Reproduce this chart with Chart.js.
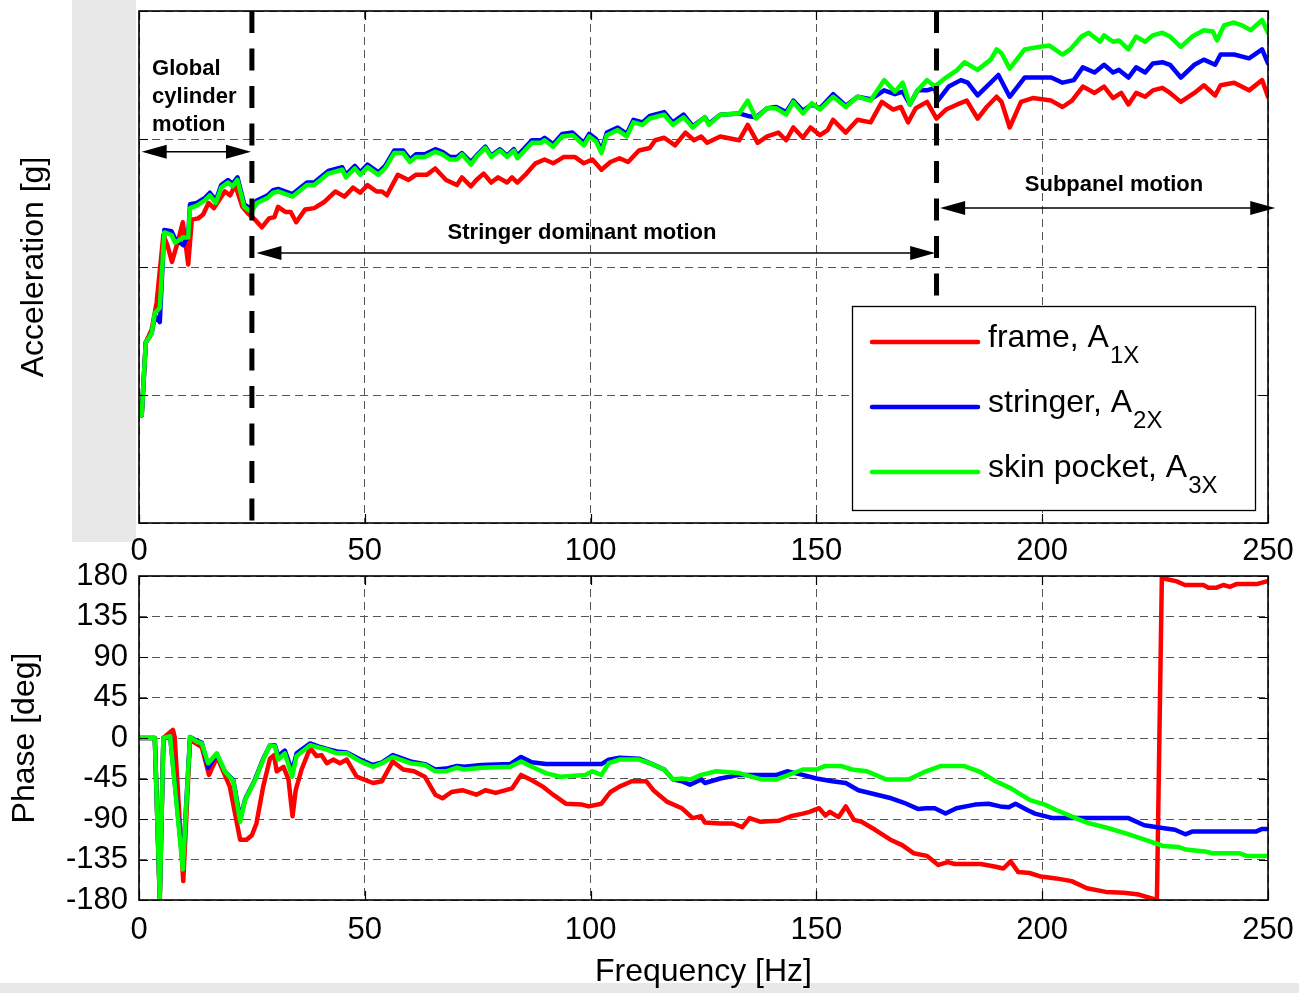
<!DOCTYPE html>
<html><head><meta charset="utf-8">
<script src="https://cdn.jsdelivr.net/npm/chart.js@4"></script>
<style>
html,body{margin:0;padding:0;background:#fff;}
#wrap{position:relative;width:1299px;height:993px;overflow:hidden;}
canvas{position:absolute;left:0;}
#c1{top:0}
#c2{top:560px}
</style></head><body>
<div id="wrap"><canvas id="c1" width="1299" height="560"></canvas><canvas id="c2" width="1299" height="433"></canvas></div>
<script>
// ---------------- DATA ----------------
const freqTicks = [0, 50, 100, 150, 200, 250];
const phaseTicks = [-180, -135, -90, -45, 0, 45, 90, 135, 180];
const seriesNames = ['frame, A', 'stringer, A', 'skin pocket, A'];
const seriesSubs = ['1X', '2X', '3X'];

// Acceleration magnitude (log decades above the bottom of the axis) : [Hz, value]
const accFrame = [[0.6,0.84],[1.5,1.41],[2.8,1.51],[3.9,1.72],[5.4,2.25],[6.3,2.17],[7.3,2.04],[8.7,2.21],[9.7,2.35],[10.9,2.02],
[11.7,2.37],[13.1,2.38],[14.2,2.41],[15.4,2.50],[16.6,2.46],[19,2.59],[20.2,2.56],[21.3,2.64],[22.9,2.47],[24.1,2.42],
[25.7,2.37],[27.2,2.31],[28.8,2.38],[30,2.39],[30.8,2.47],[32.4,2.43],[33.6,2.43],[34.8,2.35],[36.8,2.45],[38.8,2.46],
[41.1,2.51],[43.5,2.59],[45.5,2.55],[47.4,2.62],[49,2.58],[50.6,2.64],[52.6,2.59],[53.8,2.59],[54.9,2.56],[57.3,2.72],
[59.7,2.68],[61.3,2.72],[63.7,2.72],[65.6,2.77],[68,2.68],[70.4,2.64],[71.5,2.70],[73.5,2.63],[74.7,2.68],[76.3,2.73],
[78,2.66],[79.5,2.70],[81.5,2.66],[82.6,2.70],[83.8,2.66],[85.8,2.73],[87.8,2.81],[89.8,2.84],[91.7,2.81],[94.1,2.86],
[96.5,2.86],[98.5,2.81],[100.4,2.84],[102.4,2.76],[104.4,2.82],[106.4,2.85],[108.3,2.82],[110.7,2.91],[113.1,2.93],[114.3,2.99],
[116.3,3.01],[118.7,2.95],[121,3.05],[122.9,2.99],[124.5,3.02],[125.8,2.97],[128.7,3.02],[132.9,2.99],[134.8,3.11],[137,2.97],
[139.1,3.02],[141.6,3.05],[143.3,2.99],[144.9,3.09],[147,3.01],[148.7,3.09],[150.8,3.03],[152.5,3.07],[153.7,3.15],[156.5,3.05],
[159.1,3.15],[162,3.13],[164.5,3.29],[167,3.23],[168.7,3.25],[170.3,3.13],[172,3.24],[174.5,3.29],[176.6,3.16],[178.7,3.23],
[181.2,3.27],[183.3,3.30],[185.7,3.16],[187.7,3.25],[189.9,3.33],[191,3.29],[192.8,3.09],[195.3,3.29],[197.9,3.32],[202,3.30],
[204.5,3.25],[206.6,3.30],[209,3.41],[211.6,3.36],[213.7,3.41],[215.7,3.32],[217.5,3.36],[219.1,3.27],[220.8,3.36],[222.8,3.33],
[224.5,3.38],[226.6,3.40],[228.3,3.36],[230.7,3.29],[233.7,3.36],[235.8,3.42],[238.3,3.34],[239.5,3.42],[242.5,3.44],[245.8,3.38],
[248.7,3.46],[250,3.33]];

const accStringer = [[0.6,0.84],[1.5,1.41],[2.8,1.48],[3.5,1.62],[4.6,1.57],[5.6,2.29],[7.2,2.28],[8,2.22],[9.8,2.17],[10.9,2.25],
[11.3,2.49],[12.8,2.50],[14.6,2.54],[15.7,2.58],[17,2.52],[18.2,2.64],[19.7,2.68],[20.7,2.65],[21.8,2.70],[23.3,2.49],
[24.9,2.45],[26.1,2.52],[28.5,2.56],[29.7,2.60],[30.8,2.61],[34,2.57],[37.2,2.66],[38.8,2.66],[41.9,2.75],[45,2.78],
[45.8,2.72],[47.8,2.79],[49,2.74],[50.6,2.80],[53,2.74],[54.5,2.79],[56.5,2.91],[58.5,2.91],[60,2.84],[61.3,2.88],
[63.3,2.88],[65.6,2.92],[67.2,2.90],[68.8,2.86],[70.4,2.86],[71.5,2.89],[73.5,2.82],[74.7,2.87],[76.7,2.94],[78,2.87],
[79.9,2.92],[81.5,2.87],[83,2.92],[83.8,2.87],[85.4,2.93],[87,2.99],[89,2.99],[89.8,3.01],[91.7,2.96],[93.7,3.04],
[96,3.05],[98.5,2.97],[99.7,3.04],[101.2,3.00],[102.4,2.91],[103.6,3.05],[106,3.09],[108,3.04],[109.5,3.15],[111.5,3.13],
[113.1,3.18],[116.3,3.21],[118.2,3.13],[120.6,3.19],[122.6,3.10],[125.3,3.17],[126.2,3.12],[128.7,3.19],[132.9,3.20],[134.8,3.18],
[136.6,3.17],[139.1,3.24],[141.1,3.25],[143.3,3.21],[144.9,3.30],[147,3.22],[149,3.27],[150.8,3.24],[153.7,3.35],[156.5,3.26],
[159.1,3.33],[162,3.31],[165,3.38],[167.4,3.35],[169.1,3.37],[170.7,3.27],[172.4,3.38],[174.5,3.38],[176.2,3.40],[176.9,3.30],
[179.3,3.41],[182,3.46],[183.5,3.44],[185.7,3.34],[188.6,3.44],[190.3,3.50],[192.8,3.33],[196.1,3.48],[199.5,3.48],[202,3.48],
[204.5,3.44],[207,3.46],[209,3.56],[211.6,3.52],[213.7,3.58],[215.7,3.52],[217,3.54],[219.1,3.48],[220.8,3.56],[222.8,3.52],
[224.5,3.59],[226.6,3.60],[228.3,3.58],[230.7,3.48],[233.7,3.58],[235.8,3.62],[238.3,3.58],[239.5,3.66],[242.5,3.66],[245.8,3.63],
[248.7,3.70],[250,3.59]];

const accSkin = [[0.6,0.84],[1.5,1.41],[2.8,1.48],[3.5,1.64],[4.6,1.68],[5.6,2.27],[7.2,2.25],[8,2.19],[9.8,2.23],[10.9,2.23],
[11.3,2.46],[12.8,2.48],[14.6,2.52],[15.7,2.56],[17,2.50],[18.2,2.62],[19.7,2.66],[20.7,2.63],[21.8,2.68],[23.3,2.47],
[24.9,2.43],[26.1,2.50],[28.5,2.54],[29.7,2.58],[30.8,2.59],[34,2.55],[37.2,2.64],[38.8,2.64],[41.9,2.73],[45,2.76],
[45.8,2.70],[47.8,2.77],[49,2.72],[50.6,2.78],[53,2.72],[54.5,2.77],[56.5,2.89],[58.5,2.89],[60,2.82],[61.3,2.86],
[63.3,2.86],[65.6,2.90],[67.2,2.88],[68.8,2.84],[70.4,2.84],[71.5,2.88],[73.5,2.80],[74.7,2.86],[76.7,2.93],[78,2.86],
[79.9,2.91],[81.5,2.86],[83,2.91],[83.8,2.85],[85.4,2.91],[87,2.97],[89,2.97],[89.8,2.99],[91.7,2.94],[93.7,3.02],
[96,3.03],[98.5,2.95],[99.7,3.02],[101.2,2.98],[102.4,2.89],[103.6,3.03],[106,3.07],[108,3.02],[109.5,3.13],[111.5,3.11],
[113.1,3.16],[116.3,3.19],[118.2,3.11],[120.6,3.17],[122.6,3.09],[125.3,3.17],[126.2,3.11],[128.7,3.19],[132.9,3.20],[134.8,3.30],
[136.6,3.16],[139.1,3.24],[141.1,3.24],[143.3,3.19],[144.9,3.29],[147,3.20],[149,3.28],[150.8,3.23],[153.7,3.33],[156.5,3.25],
[159.1,3.33],[162,3.30],[165,3.46],[167.4,3.37],[169.1,3.44],[170.7,3.27],[172.4,3.38],[174.5,3.46],[176.2,3.41],[178.7,3.48],
[181.2,3.54],[182.8,3.60],[185.7,3.54],[188.6,3.62],[189.9,3.70],[191,3.67],[192.8,3.55],[196.1,3.70],[199.5,3.72],[201.6,3.73],
[204.5,3.66],[206.2,3.70],[208.7,3.80],[210.3,3.83],[212.8,3.76],[213.7,3.81],[215.7,3.76],[217,3.77],[219.1,3.70],[220.8,3.80],
[222.8,3.76],[224.5,3.81],[226.6,3.83],[228.3,3.80],[230.7,3.72],[233.2,3.80],[235.8,3.85],[237.8,3.84],[238.7,3.77],[240.3,3.89],
[242.5,3.91],[244.1,3.89],[246.2,3.85],[248.7,3.93],[250,3.83]];

// Phase [deg] : [Hz, deg]
const phaseFrame = [[0,0],[3.5,0],[4.6,-180],[5.4,0],[6.1,3],[7.5,9],[7.9,1],[9.8,-159],[11.3,-2],[13.9,-10],
[15.5,-41],[17.3,-21],[20.1,-54],[22.4,-113],[23.8,-113],[25,-108],[26,-95],[27.5,-54],[29,-23],[29.9,-19],
[30.5,-37],[32,-32],[33.1,-46],[34,-87],[34.7,-58],[36,-35],[37.9,-11],[39.3,-20],[40.4,-19],[41.6,-28],
[43,-24],[44.5,-28],[46,-24],[48.2,-43],[51.8,-50],[53.8,-48],[56.2,-26],[58.5,-35],[60.9,-37],[63.3,-43],
[65.6,-63],[67.2,-67],[69.2,-60],[71.6,-58],[74.7,-63],[76.7,-58],[79,-61],[82.6,-56],[84.6,-41],[87,-47],
[89.4,-54],[91.7,-63],[94.5,-73],[98.1,-74],[99.6,-76],[102.4,-73],[104.4,-60],[106.4,-54],[109.1,-48],[112.3,-48],
[113.9,-58],[117,-71],[120.2,-78],[122.6,-89],[124.5,-87],[125.3,-94],[128.7,-95],[131.5,-95],[133.6,-99],[135.2,-89],
[137.5,-93],[141.6,-92],[144.3,-87],[147,-84],[148.5,-82],[150.6,-78],[152,-86],[153,-82],[154.9,-88],[156.5,-76],
[158.3,-91],[160,-93],[163,-102],[166.4,-113],[169,-119],[171.5,-128],[174.5,-131],[177,-141],[179.1,-138],[180.6,-140],
[186.4,-140],[189.7,-143],[191.4,-145],[193,-137],[194.7,-149],[197.2,-150],[199.7,-154],[203.1,-156],[206.5,-159],[209.9,-167],
[214.1,-171],[218.1,-172],[221.4,-174],[225.4,-180],[226.5,180],[227.2,177],[229.8,174],[231.6,170],[235.7,170],[236.8,167],
[238.6,167],[240.1,170],[241.6,168],[243,171],[247.5,171],[249.7,174],[250,174]];

const phaseStringer = [[0,0],[3.5,0],[4.6,-176],[5.4,0],[6.9,2],[9.7,-140],[11.3,1],[12.8,-3],[13.9,-5],[15.3,-33],
[17.2,-18],[19,-37],[20.9,-47],[22.4,-90],[23.5,-68],[25.7,-46],[27.5,-23],[29,-8],[30.1,-8],[30.8,-20],
[32.3,-14],[33.9,-37],[34.9,-17],[37.9,-6],[40.1,-10],[41.6,-12],[43.8,-15],[46,-16],[49,-24],[51.8,-30],
[53.8,-27],[56.2,-19],[60.1,-26],[63.3,-29],[65.6,-35],[68,-34],[70.4,-31],[72,-32],[75.9,-30],[82.2,-29],
[84.6,-21],[87,-27],[90.1,-29],[93.3,-29],[98.8,-29],[100.4,-29],[102.4,-29],[104,-24],[106.4,-22],[110.7,-23],
[113.1,-28],[116.3,-35],[118.2,-46],[120.2,-48],[122,-52],[124.5,-46],[125.3,-50],[128.7,-45],[132.9,-41],[141.2,-41],
[143.5,-37],[147,-41],[150,-45],[153.5,-48],[156.5,-50],[159.3,-58],[163.4,-63],[166.6,-67],[169.4,-72],[172.6,-79],
[174.2,-78],[176.2,-78],[178.6,-84],[181,-78],[185.1,-74],[188.1,-73],[190.7,-76],[192.6,-77],[194.1,-73],[196.7,-80],
[198.4,-84],[202.3,-89],[206.6,-89],[219.1,-89],[222.6,-97],[226.6,-100],[229.4,-102],[231.7,-107],[233.2,-104],[247.3,-104],
[248.7,-101],[250,-101]];

const phaseSkin = [[0,0],[3.5,0],[4.6,-178],[5.4,0],[6.9,2],[9.7,-146],[11.3,1],[12.8,-4],[13.9,-6],[15.3,-28],
[17.2,-17],[19,-37],[20.9,-48],[22.4,-93],[23.5,-69],[25.7,-47],[27.5,-24],[29,-8],[30.1,-9],[30.8,-24],
[32.3,-17],[33.9,-43],[34.9,-20],[37.9,-8],[40.1,-11],[41.6,-13],[43.8,-17],[46,-17],[49,-26],[51.8,-32],
[53.8,-28],[56.2,-21],[60.1,-28],[63.3,-30],[65.6,-37],[68,-37],[70.4,-33],[72,-35],[75.9,-33],[82.2,-32],
[84.6,-26],[87,-32],[90.1,-39],[93.3,-43],[98.8,-41],[100.4,-37],[102.4,-41],[104,-28],[106.4,-24],[110.7,-24],
[113.1,-28],[116.3,-35],[118.2,-46],[120.2,-45],[122.2,-46],[124.5,-41],[127.8,-37],[132.9,-39],[137.8,-46],[141.2,-46],
[147,-35],[150,-35],[152,-31],[155.4,-31],[157.9,-35],[161.2,-37],[165.4,-46],[170.5,-46],[173.8,-38],[177.6,-31],
[182.6,-31],[186.4,-38],[189.7,-48],[193.1,-56],[197.3,-69],[200.6,-74],[203.1,-80],[206.5,-87],[209.9,-94],[214.5,-100],
[218.5,-106],[222.7,-113],[226.8,-120],[230.1,-121],[231.8,-124],[236,-126],[237.7,-128],[243.6,-128],[245.3,-131],[250,-131]];

// Region boundaries [Hz] and their extent on the magnitude axis
const regionDividers = [[25, 4, 0], [176.6, 4, 1.77]];

// ---------------- ANNOTATION LAYOUT (data units) ----------------
const noteTexts = [
  {text:'Global', x:2.9, y:3.547, align:'left'},
  {text:'cylinder', x:2.9, y:3.328, align:'left'},
  {text:'motion', x:2.9, y:3.109, align:'left'},
  {text:'Stringer dominant motion', x:98.1, y:2.27, align:'center'},
  {text:'Subpanel motion', x:215.9, y:2.64, align:'center'}
];
const noteArrows = [[0.6, 24.8, 2.90], [26.0, 176.3, 2.11], [177.4, 251.6, 2.46]];

// ---------------- STYLE ----------------
const FONT = '"Liberation Sans", Arial, Helvetica, sans-serif';
const COLORS = ['#ff0000', '#0000ff', '#00ff00'];
const GRID = '#555555';

function series(pairs, color, order) {
  return {data: pairs.map(p => ({x: p[0], y: p[1]})), borderColor: color, borderWidth: 4.5,
    pointRadius: 0, pointHoverRadius: 0, fill: false, tension: 0, order: order,
    borderJoinStyle: 'round', borderCapStyle: 'round'};
}

const framePlugin = {
  id: 'frameBox',
  beforeDraw(chart, args, o) {
    const c = chart.ctx; c.save();
    c.fillStyle = '#fff'; c.fillRect(0, 0, chart.width, chart.height);
    c.fillStyle = '#e8e8e8';
    (o.greys || []).forEach(r => c.fillRect(r[0], r[1], r[2], r[3]));
    c.restore();
  },
  afterDraw(chart) {
    const c = chart.ctx, ca = chart.chartArea, xs = chart.scales.x, ys = chart.scales.y;
    c.save();
    c.strokeStyle = '#000'; c.lineWidth = 1.2; c.setLineDash([]);
    c.beginPath();
    xs.ticks.forEach(t => { const p = Math.round(xs.getPixelForValue(t.value)) + 0.5;
      c.moveTo(p, ca.bottom); c.lineTo(p, ca.bottom - 9); c.moveTo(p, ca.top); c.lineTo(p, ca.top + 9); });
    ys.ticks.forEach(t => { const p = Math.round(ys.getPixelForValue(t.value)) + 0.5;
      c.moveTo(ca.left, p); c.lineTo(ca.left + 9, p); c.moveTo(ca.right, p); c.lineTo(ca.right - 9, p); });
    c.stroke();
    c.lineWidth = 1.6;
    c.strokeRect(ca.left, ca.top, ca.right - ca.left, ca.bottom - ca.top);
    c.restore();
  }
};

const notesPlugin = {
  id: 'notes',
  afterDraw(chart) {
    const c = chart.ctx, ca = chart.chartArea, xs = chart.scales.x, ys = chart.scales.y;
    c.save();
    // legend box
    const bx = ca.right - 416, by = ca.bottom - 217, bw = 403, bh = 204;
    c.fillStyle = '#fff'; c.fillRect(bx, by, bw, bh);
    c.strokeStyle = '#000'; c.lineWidth = 1.3; c.strokeRect(bx + 0.5, by + 0.5, bw, bh);
    for (let i = 0; i < seriesNames.length; i++) {
      const ly = by + 36 + i * 65;
      c.strokeStyle = COLORS[i]; c.lineWidth = 4.5; c.lineCap = 'round';
      c.beginPath(); c.moveTo(bx + 20, ly); c.lineTo(bx + 126, ly); c.stroke();
      c.fillStyle = '#000'; c.textBaseline = 'alphabetic'; c.textAlign = 'left';
      c.font = '32px ' + FONT;
      c.fillText(seriesNames[i], bx + 136, ly + 5);
      const w = c.measureText(seriesNames[i]).width;
      c.font = '24px ' + FONT;
      c.fillText(seriesSubs[i], bx + 137 + w, ly + 21);
    }
    // arrows
    c.strokeStyle = '#000'; c.fillStyle = '#000'; c.lineWidth = 1.5; c.lineCap = 'butt';
    noteArrows.forEach(a => {
      const x0 = xs.getPixelForValue(a[0]), x1 = xs.getPixelForValue(a[1]), y = ys.getPixelForValue(a[2]);
      c.beginPath(); c.moveTo(x0 + 20, y); c.lineTo(x1 - 20, y); c.stroke();
      c.beginPath(); c.moveTo(x0, y); c.lineTo(x0 + 25, y - 7); c.lineTo(x0 + 25, y + 7); c.closePath(); c.fill();
      c.beginPath(); c.moveTo(x1, y); c.lineTo(x1 - 25, y - 7); c.lineTo(x1 - 25, y + 7); c.closePath(); c.fill();
    });
    // texts
    c.font = 'bold 22px ' + FONT; c.textBaseline = 'middle';
    noteTexts.forEach(t => {
      c.textAlign = t.align;
      c.fillText(t.text, xs.getPixelForValue(t.x), ys.getPixelForValue(t.y));
    });
    c.restore();
  }
};

function xScale(pad, title, h) {
  const s = {
    type: 'linear', min: 0, max: 250,
    afterBuildTicks(sc) { sc.ticks = freqTicks.map(v => ({value: v})); },
    ticks: {font: {family: FONT, size: 31, lineHeight: 1}, color: '#000', padding: pad, maxRotation: 0, autoSkip: false},
    grid: {color: GRID, lineWidth: 1, drawTicks: false},
    border: {display: false, dash: [8, 5]},
    afterFit(sc) { sc.height = h; sc.paddingLeft = 0; sc.paddingRight = 0; }
  };
  if (title) s.title = {display: true, text: title, color: '#000', font: {family: FONT, size: 32, lineHeight: 1}, padding: {top: 0, bottom: 5}};
  return s;
}
function yFit(sc) { sc.width = 139; sc.paddingTop = 0; sc.paddingBottom = 0; }

// ---------------- TOP CHART ----------------
const topDatasets = [
  series(accFrame, COLORS[0], 3),
  series(accStringer, COLORS[1], 2),
  series(accSkin, COLORS[2], 1)
];
regionDividers.forEach(d => topDatasets.push({
  data: [{x: d[0], y: d[1]}, {x: d[0], y: d[2]}], borderColor: '#000', borderWidth: 5,
  borderDash: [22, 15.5], pointRadius: 0, fill: false, order: 0, borderCapStyle: 'butt'
}));

new Chart(document.getElementById('c1'), {
  type: 'line',
  data: {datasets: topDatasets},
  options: {
    responsive: false, animation: false, devicePixelRatio: 1, events: [],
    layout: {padding: {left: 0, right: 31, top: 11, bottom: 0}},
    plugins: {legend: {display: false}, tooltip: {enabled: false}, frameBox: {greys: [[72, 0, 64, 542]]}},
    scales: {
      x: xScale(12.5, null, 37),
      y: {
        type: 'linear', min: 0, max: 4,
        ticks: {display: false, stepSize: 1},
        grid: {color: GRID, lineWidth: 1, drawTicks: false},
        border: {display: false, dash: [8, 5]},
        title: {display: true, text: 'Acceleration [g]', color: '#000', font: {family: FONT, size: 32, lineHeight: 1}, padding: {top: 18, bottom: 0}},
        afterFit: yFit
      }
    }
  },
  plugins: [framePlugin, notesPlugin]
});

// ---------------- BOTTOM CHART ----------------
new Chart(document.getElementById('c2'), {
  type: 'line',
  data: {datasets: [
    series(phaseFrame, COLORS[0], 3),
    series(phaseStringer, COLORS[1], 2),
    series(phaseSkin, COLORS[2], 1)
  ]},
  options: {
    responsive: false, animation: false, devicePixelRatio: 1, events: [],
    layout: {padding: {left: 0, right: 31, top: 16, bottom: 0}},
    plugins: {legend: {display: false}, tooltip: {enabled: false}, frameBox: {greys: [[0, 423, 1299, 10]]}},
    scales: {
      x: xScale(14.5, 'Frequency [Hz]', 93),
      y: {
        type: 'linear', min: -180, max: 180,
        afterBuildTicks(sc) { sc.ticks = phaseTicks.map(v => ({value: v})); },
        ticks: {font: {family: FONT, size: 31, lineHeight: 1}, color: '#000', padding: 11},
        grid: {color: GRID, lineWidth: 1, drawTicks: false},
        border: {display: false, dash: [8, 5]},
        title: {display: true, text: 'Phase [deg]', color: '#000', font: {family: FONT, size: 32, lineHeight: 1}, padding: {top: 9, bottom: 0}},
        afterFit: yFit
      }
    }
  },
  plugins: [framePlugin]
});
</script>
</body></html>
